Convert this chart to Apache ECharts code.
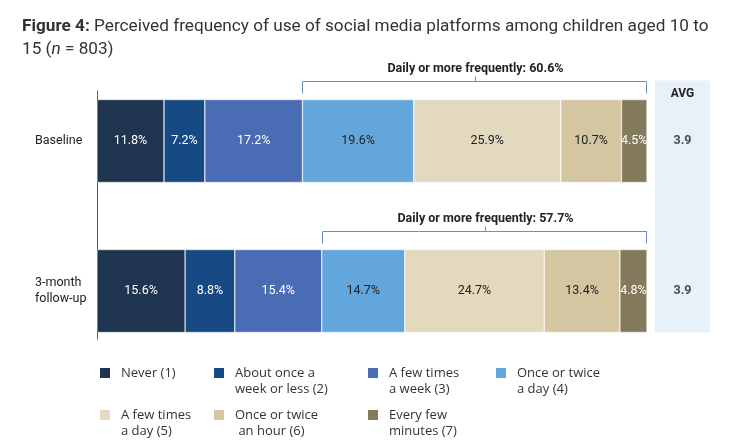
<!DOCTYPE html>
<html>
<head>
<meta charset="utf-8">
<script src="https://cdn.jsdelivr.net/npm/echarts@6/dist/echarts.min.js"></script>
<style>
  html, body { margin: 0; padding: 0; background: #fff; }
  #main { width: 733px; height: 445px; }
</style>
</head>
<body>
<div id="main"></div>
<script>
// data
var categories = ['Baseline', '3-month\nfollow-up'];
var levels = ['Never (1)', 'About once a\nweek or less (2)', 'A few times\na week (3)', 'Once or twice\na day (4)',
              'A few times\na day (5)', 'Once or twice\n an hour (6)', 'Every few\nminutes (7)'];
var baseline = [11.8, 7.2, 17.2, 19.6, 25.9, 10.7, 4.5];
var followUp = [15.6, 8.8, 15.4, 14.7, 24.7, 13.4, 4.8];
var averages = [3.9, 3.9];
var dailyShares = [60.6, 57.7];   // "Daily or more frequently" as printed

var colors = ['#1e344f', '#174a85', '#4a6cb4', '#62a6dc', '#e2d9be', '#d5c6a2', '#847b5c'];
var labelColors = ['#fff', '#fff', '#fff', '#222', '#222', '#222', '#fff'];
var FONT = 'Roboto';
var BAR_H = 83;

var rows = [baseline, followUp];
function sum(a) { return a.reduce(function (s, v) { return s + v; }, 0); }

var chart = echarts.init(document.getElementById('main'));

// each row is stretched to the full width (the printed figures don't add to 100)
var series = levels.map(function (name, i) {
  return {
    name: name,
    type: 'bar',
    stack: 'all',
    barWidth: BAR_H,
    itemStyle: { color: colors[i], borderColor: '#fff', borderWidth: 0.5 },
    label: {
      show: true,
      position: 'inside',
      color: labelColors[i],
      fontFamily: FONT,
      fontSize: 12.5,
      formatter: function (p) { return p.data.raw.toFixed(1) + '%'; }
    },
    data: rows.map(function (row) {
      return { value: row[i] / sum(row) * 100, raw: row[i] };
    })
  };
});

series.push({
  type: 'scatter',
  xAxisIndex: 1,
  yAxisIndex: 1,
  symbolSize: 0,
  z: 5,
  label: {
    show: true,
    position: 'inside',
    color: '#222',
    fontFamily: FONT,
    fontSize: 12.5,
    fontWeight: 'bold',
    formatter: function (p) { return p.data.avg.toFixed(1); }
  },
  data: averages.map(function (a, i) { return { value: [0, i], avg: a }; })
});

// one legend per item so the four-column layout can be matched
var legendPos = [[93, 359], [207, 359], [361, 359], [489, 359], [93, 401], [207, 401], [361, 401]];
var iconPath = 'path://M0,2H12V14H0Z M0,0H0.01V0.01H0Z M0,32H0.01V32.01H0Z';
var legends = levels.map(function (name, i) {
  return {
    data: [name],
    left: legendPos[i][0],
    top: legendPos[i][1],
    icon: iconPath,
    itemWidth: 12,
    itemHeight: 32,
    selectedMode: false,
    formatter: function (n) { return n.indexOf('\n') < 0 ? n + '\n ' : n; },
    textStyle: { fontFamily: 'Open Sans', fontSize: 13, color: '#333', lineHeight: 16, padding: [0, 0, 0, 5] }
  };
});

chart.setOption({
  animation: false,
  title: {
    left: 17,
    top: 10,
    text: '{b|Figure 4:} Perceived frequency of use of social media platforms among children aged 10 to\n15 ({i|n} = 803)',
    textStyle: {
      fontFamily: FONT, fontSize: 17.2, fontWeight: 'normal', color: '#333', lineHeight: 23,
      rich: {
        b: { fontFamily: FONT, fontSize: 17.2, fontWeight: 'bold', color: '#333', lineHeight: 23 },
        i: { fontFamily: FONT, fontSize: 17.2, fontStyle: 'italic', color: '#333', lineHeight: 23 }
      }
    }
  },
  legend: legends,
  grid: [
    { left: 97, width: 550, top: 66, height: 300 },
    { left: 655, width: 55, top: 66, height: 300 }
  ],
  xAxis: [
    { type: 'value', min: 0, max: 100, show: false, gridIndex: 0 },
    { type: 'value', min: -1, max: 1, show: false, gridIndex: 1 }
  ],
  yAxis: [
    {
      type: 'category', data: categories, inverse: true, gridIndex: 0,
      axisLine: { show: false }, axisTick: { show: false },
      axisLabel: { align: 'left', margin: 62, fontFamily: FONT, fontSize: 12.5, color: '#222', lineHeight: 16 }
    },
    { type: 'category', data: categories, inverse: true, gridIndex: 1, show: false }
  ],
  series: series
});

// brackets, axis line and the AVG panel, placed from the data through the axes
var graphics = [];
var bracketColor = '#6d8fc0';
var firstTop, lastBottom;
rows.forEach(function (row, r) {
  var start = (row[0] + row[1] + row[2]) / sum(row) * 100;
  var p0 = chart.convertToPixel({ gridIndex: 0 }, [start, r]);
  var p1 = chart.convertToPixel({ gridIndex: 0 }, [100, r]);
  var top = p0[1] - BAR_H / 2;
  if (r === 0) firstTop = top;
  lastBottom = p0[1] + BAR_H / 2;
  var by = Math.round(top - 19) + 0.5;
  var xa = Math.round(p0[0]) + 0.5, xb = Math.round(p1[0]) - 0.5;
  var mid = Math.round((xa + xb) / 2) + 0.5;
  graphics.push({
    type: 'polyline',
    shape: { points: [[xa, top - 6], [xa, by], [xb, by], [xb, top - 6]] },
    style: { stroke: bracketColor, fill: null, lineWidth: 1 }
  });
  graphics.push({
    type: 'line',
    shape: { x1: mid, y1: by, x2: mid, y2: by - 5 },
    style: { stroke: bracketColor, lineWidth: 1 }
  });
  graphics.push({
    type: 'text',
    style: {
      text: 'Daily or more frequently: ' + dailyShares[r].toFixed(1) + '%',
      x: mid, y: by - 13, align: 'center', verticalAlign: 'middle',
      font: 'bold 12.5px ' + FONT, fill: '#222'
    }
  });
});

var axisX = Math.round(chart.convertToPixel({ gridIndex: 0 }, [0, 0])[0]) + 0.5;
graphics.push({
  type: 'line',
  shape: { x1: axisX, y1: firstTop - 9, x2: axisX, y2: lastBottom + 7 },
  style: { stroke: '#3d5f90', lineWidth: 1 }
});

var avgX = chart.convertToPixel({ xAxisIndex: 1, yAxisIndex: 1 }, [0, 0])[0];
graphics.push({
  type: 'rect',
  z: -10,
  shape: { x: 655, y: firstTop - 19, width: 55, height: lastBottom - firstTop + 19 },
  style: { fill: '#e8f0fa' }
});
graphics.push({
  type: 'text',
  style: {
    text: 'AVG', x: avgX, y: firstTop - 6, align: 'center', verticalAlign: 'middle',
    font: 'bold 12px ' + FONT, fill: '#222'
  }
});

chart.setOption({ graphic: graphics });
</script>
</body>
</html>
